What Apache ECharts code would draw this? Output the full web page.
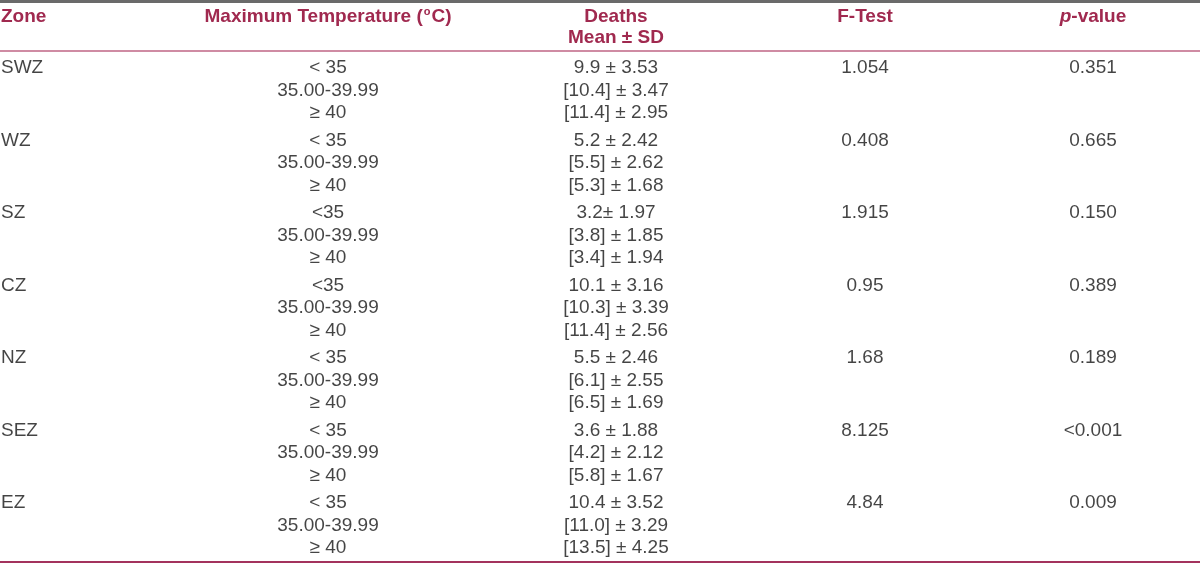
<!DOCTYPE html>
<html>
<head>
<meta charset="utf-8">
<script src="https://cdn.jsdelivr.net/npm/echarts@6/dist/echarts.min.js"></script>
<style>
html,body{margin:0;padding:0;background:#fff;}
#chart{width:1200px;height:563px;}
</style>
</head>
<body>
<div id="chart"></div>
<script>
// ---- data ----
const ZONES = ['SWZ', 'WZ', 'SZ', 'CZ', 'NZ', 'SEZ', 'EZ'];
const TEMP_LABELS = [
  ['< 35', '35.00-39.99', '≥ 40'],
  ['< 35', '35.00-39.99', '≥ 40'],
  ['<35', '35.00-39.99', '≥ 40'],
  ['<35', '35.00-39.99', '≥ 40'],
  ['< 35', '35.00-39.99', '≥ 40'],
  ['< 35', '35.00-39.99', '≥ 40'],
  ['< 35', '35.00-39.99', '≥ 40']
];
const DEATHS = [
  ['9.9 ± 3.53', '[10.4] ± 3.47', '[11.4] ± 2.95'],
  ['5.2 ± 2.42', '[5.5] ± 2.62', '[5.3] ± 1.68'],
  ['3.2± 1.97', '[3.8] ± 1.85', '[3.4] ± 1.94'],
  ['10.1 ± 3.16', '[10.3] ± 3.39', '[11.4] ± 2.56'],
  ['5.5 ± 2.46', '[6.1] ± 2.55', '[6.5] ± 1.69'],
  ['3.6 ± 1.88', '[4.2] ± 2.12', '[5.8] ± 1.67'],
  ['10.4 ± 3.52', '[11.0] ± 3.29', '[13.5] ± 4.25']
];
const F_TEST = ['1.054', '0.408', '1.915', '0.95', '1.68', '8.125', '4.84'];
const P_VALUE = ['0.351', '0.665', '0.150', '0.389', '0.189', '<0.001', '0.009'];

// ---- layout ----
const FONT = '"Liberation Sans", Arial, Helvetica, sans-serif';
const FS = 19;
const LH = 22.5;
const TXT = '#151515';
const HEAD = '#a0294f';
const COL = { zone: 1, temp: 328, deaths: 616, f: 865, p: 1093 };

function colSeries(name, x, textFn, align, dy) {
  return {
    type: 'scatter',
    name: name,
    silent: true,
    symbolSize: 1,
    itemStyle: { color: 'rgba(0,0,0,0)' },
    data: ZONES.map(z => [x, z]),
    label: {
      show: true,
      position: 'inside',
      align: align,
      verticalAlign: 'middle',
      offset: [0, dy],
      formatter: p => textFn(p.dataIndex),
      fontFamily: FONT,
      fontSize: FS,
      lineHeight: LH,
      color: TXT
    }
  };
}

const chart = echarts.init(document.getElementById('chart'), null, { renderer: 'canvas' });

const headStyle = { fontFamily: FONT, fontSize: FS, fontWeight: 'bold', fill: HEAD };

chart.setOption({
  animation: false,
  backgroundColor: '#ffffff',
  grid: { left: 0, right: 0, top: 54, bottom: 1, containLabel: false },
  xAxis: [
    {
      type: 'value', min: 0, max: 1200, position: 'bottom',
      axisLine: { show: true, onZero: false, lineStyle: { color: '#a3335d', width: 2 } },
      axisTick: { show: false }, axisLabel: { show: false }, splitLine: { show: false }
    },
    {
      type: 'value', min: 0, max: 1200, position: 'top', offset: 3,
      axisLine: { show: true, onZero: false, lineStyle: { color: '#bf6585', width: 1.5 } },
      axisTick: { show: false }, axisLabel: { show: false }, splitLine: { show: false }
    }
  ],
  yAxis: {
    type: 'category', data: ZONES, inverse: true, show: false
  },
  series: [
    colSeries('Zone', COL.zone, i => ZONES[i], 'left', -LH),
    colSeries('Temperature', COL.temp, i => TEMP_LABELS[i].join('\n'), 'center', 0),
    colSeries('Deaths', COL.deaths, i => DEATHS[i].join('\n'), 'center', 0),
    colSeries('F-Test', COL.f, i => F_TEST[i], 'center', -LH),
    colSeries('p-value', COL.p, i => P_VALUE[i], 'center', -LH)
  ],
  graphic: [
    { type: 'rect', left: 0, top: 0, shape: { width: 1200, height: 3 }, style: { fill: '#6a6a6a' }, silent: true },
    { type: 'text', x: COL.zone, y: 17, style: Object.assign({ text: 'Zone', align: 'left', verticalAlign: 'middle' }, headStyle) },
    {
      type: 'text', x: COL.temp, y: 17,
      style: Object.assign({
        text: '{b|Maximum Temperature (}{s|o}{b|C)}',
        align: 'center', verticalAlign: 'middle',
        rich: {
          b: { fontFamily: FONT, fontSize: FS, fontWeight: 'bold', fill: HEAD, lineHeight: 22 },
          s: { fontFamily: FONT, fontSize: 11, fontWeight: 'bold', fill: HEAD, lineHeight: 22, verticalAlign: 'top', padding: [0, 1, 0, 1] }
        }
      }, headStyle)
    },
    { type: 'text', x: COL.deaths, y: 17, style: Object.assign({ text: 'Deaths', align: 'center', verticalAlign: 'middle' }, headStyle) },
    { type: 'text', x: COL.deaths, y: 38, style: Object.assign({ text: 'Mean ± SD', align: 'center', verticalAlign: 'middle' }, headStyle) },
    { type: 'text', x: COL.f, y: 17, style: Object.assign({ text: 'F-Test', align: 'center', verticalAlign: 'middle' }, headStyle) },
    {
      type: 'text', x: COL.p, y: 17,
      style: Object.assign({
        text: '{i|p}{b|-value}',
        align: 'center', verticalAlign: 'middle',
        rich: {
          i: { fontFamily: FONT, fontSize: FS, fontWeight: 'bold', fontStyle: 'italic', fill: HEAD },
          b: { fontFamily: FONT, fontSize: FS, fontWeight: 'bold', fill: HEAD }
        }
      }, headStyle)
    }
  ]
});
</script>
</body>
</html>
